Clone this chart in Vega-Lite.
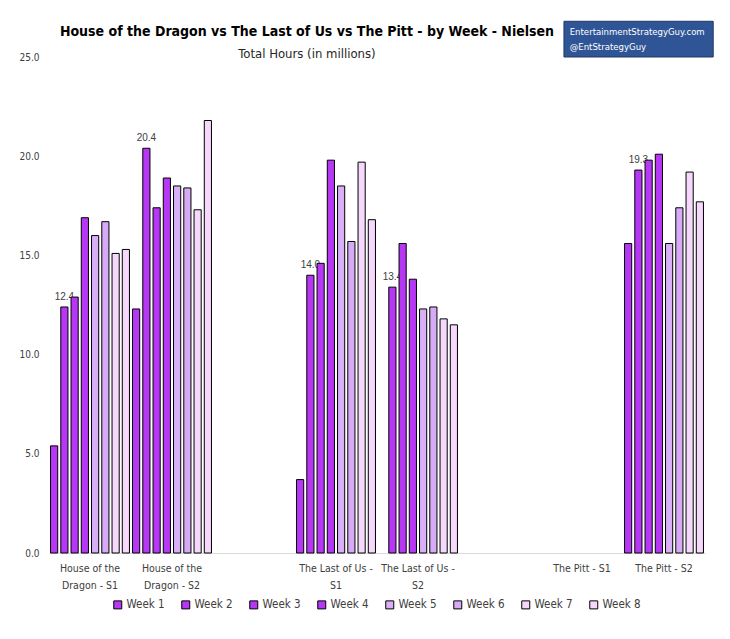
{
  "$schema": "https://vega.github.io/schema/vega-lite/v6.json",
  "width": 656,
  "height": 496,
  "autosize": {"type": "none"},
  "padding": {"left": 49, "top": 57, "right": 25, "bottom": 86},
  "background": "white",
  "title": {
    "text": "House of the Dragon vs The Last of Us vs The Pitt - by Week - Nielsen",
    "subtitle": "Total Hours (in millions)",
    "anchor": "middle",
    "dx": -70,
    "offset": -40,
    "font": "DejaVu Sans Condensed, DejaVu Sans, sans-serif",
    "fontSize": 14,
    "fontWeight": "bold",
    "color": "#000000",
    "subtitleFont": "DejaVu Sans Condensed, DejaVu Sans, sans-serif",
    "subtitleFontSize": 13,
    "subtitleColor": "#262626",
    "subtitlePadding": 9
  },
  "datasets": {
    "hours": [
      {"show": "House of the Dragon - S1", "week": "Week 1", "hours": 5.4},
      {"show": "House of the Dragon - S1", "week": "Week 2", "hours": 12.4},
      {"show": "House of the Dragon - S1", "week": "Week 3", "hours": 12.9},
      {"show": "House of the Dragon - S1", "week": "Week 4", "hours": 16.9},
      {"show": "House of the Dragon - S1", "week": "Week 5", "hours": 16.0},
      {"show": "House of the Dragon - S1", "week": "Week 6", "hours": 16.7},
      {"show": "House of the Dragon - S1", "week": "Week 7", "hours": 15.1},
      {"show": "House of the Dragon - S1", "week": "Week 8", "hours": 15.3},
      {"show": "House of the Dragon - S2", "week": "Week 1", "hours": 12.3},
      {"show": "House of the Dragon - S2", "week": "Week 2", "hours": 20.4},
      {"show": "House of the Dragon - S2", "week": "Week 3", "hours": 17.4},
      {"show": "House of the Dragon - S2", "week": "Week 4", "hours": 18.9},
      {"show": "House of the Dragon - S2", "week": "Week 5", "hours": 18.5},
      {"show": "House of the Dragon - S2", "week": "Week 6", "hours": 18.4},
      {"show": "House of the Dragon - S2", "week": "Week 7", "hours": 17.3},
      {"show": "House of the Dragon - S2", "week": "Week 8", "hours": 21.8},
      {"show": "The Last of Us - S1", "week": "Week 1", "hours": 3.7},
      {"show": "The Last of Us - S1", "week": "Week 2", "hours": 14.0},
      {"show": "The Last of Us - S1", "week": "Week 3", "hours": 14.6},
      {"show": "The Last of Us - S1", "week": "Week 4", "hours": 19.8},
      {"show": "The Last of Us - S1", "week": "Week 5", "hours": 18.5},
      {"show": "The Last of Us - S1", "week": "Week 6", "hours": 15.7},
      {"show": "The Last of Us - S1", "week": "Week 7", "hours": 19.7},
      {"show": "The Last of Us - S1", "week": "Week 8", "hours": 16.8},
      {"show": "The Last of Us - S2", "week": "Week 2", "hours": 13.4},
      {"show": "The Last of Us - S2", "week": "Week 3", "hours": 15.6},
      {"show": "The Last of Us - S2", "week": "Week 4", "hours": 13.8},
      {"show": "The Last of Us - S2", "week": "Week 5", "hours": 12.3},
      {"show": "The Last of Us - S2", "week": "Week 6", "hours": 12.4},
      {"show": "The Last of Us - S2", "week": "Week 7", "hours": 11.8},
      {"show": "The Last of Us - S2", "week": "Week 8", "hours": 11.5},
      {"show": "The Pitt - S2", "week": "Week 1", "hours": 15.6},
      {"show": "The Pitt - S2", "week": "Week 2", "hours": 19.3},
      {"show": "The Pitt - S2", "week": "Week 3", "hours": 19.8},
      {"show": "The Pitt - S2", "week": "Week 4", "hours": 20.1},
      {"show": "The Pitt - S2", "week": "Week 5", "hours": 15.6},
      {"show": "The Pitt - S2", "week": "Week 6", "hours": 17.4},
      {"show": "The Pitt - S2", "week": "Week 7", "hours": 19.2},
      {"show": "The Pitt - S2", "week": "Week 8", "hours": 17.7}
    ],
    "badge": [
      {"text": "EntertainmentStrategyGuy.com\n@EntStrategyGuy"}
    ]
  },
  "config": {
    "view": {"stroke": null},
    "font": "DejaVu Sans Condensed, DejaVu Sans, sans-serif"
  },
  "encoding": {
    "x": {
      "field": "show",
      "type": "nominal",
      "sort": null,
      "scale": {
        "domain": ["House of the Dragon - S1", "House of the Dragon - S2", "gap1", "The Last of Us - S1", "The Last of Us - S2", "gap2", "The Pitt - S1", "The Pitt - S2"],
        "paddingInner": 0,
        "paddingOuter": 0
      },
      "axis": {
        "title": null,
        "labelAngle": 0,
        "ticks": false,
        "domainColor": "#d9d9d9",
        "domainWidth": 1,
        "labelFont": "DejaVu Sans Condensed, DejaVu Sans, sans-serif",
        "labelFontSize": 10.5,
        "labelColor": "#404040",
        "labelPadding": 10,
        "labelLineHeight": 17,
        "labelBaseline": "top",
        "labelLimit": 200,
        "labelExpr": "datum.value == 'House of the Dragon - S1' ? ['House of the', 'Dragon - S1'] : datum.value == 'House of the Dragon - S2' ? ['House of the', 'Dragon - S2'] : datum.value == 'The Last of Us - S1' ? ['The Last of Us -', 'S1'] : datum.value == 'The Last of Us - S2' ? ['The Last of Us -', 'S2'] : indexof(datum.value, 'gap') == 0 ? '' : datum.value"
      }
    }
  },
  "layer": [
    {
      "data": {"name": "hours"},
      "transform": [{"filter": "datum.week == 'Week 2'"}],
      "mark": {"type": "text", "font": "Liberation Sans", "fontSize": 10, "color": "#404040", "baseline": "alphabetic", "dy": -7},
      "encoding": {
        "xOffset": {"field": "week", "type": "nominal", "scale": {"domain": ["Week 1", "Week 2", "Week 3", "Week 4", "Week 5", "Week 6", "Week 7", "Week 8"], "paddingInner": 0.3, "paddingOuter": 0.15}},
        "y": {"field": "hours", "type": "quantitative"},
        "text": {"field": "hours", "type": "quantitative", "format": ".1f"}
      }
    },
    {
      "data": {"name": "hours"},
      "mark": {"type": "bar", "stroke": "#000000", "strokeWidth": 1},
      "encoding": {
        "xOffset": {"field": "week", "type": "nominal", "scale": {"domain": ["Week 1", "Week 2", "Week 3", "Week 4", "Week 5", "Week 6", "Week 7", "Week 8"], "paddingInner": 0.3, "paddingOuter": 0.15}},
        "y": {
          "field": "hours",
          "type": "quantitative",
          "scale": {"domain": [0, 25], "nice": false},
          "axis": {
            "title": null,
            "values": [0, 5, 10, 15, 20, 25],
            "format": ".1f",
            "grid": false,
            "ticks": false,
            "domain": false,
            "labelFont": "DejaVu Sans Condensed, DejaVu Sans, sans-serif",
            "labelFontSize": 10,
            "labelColor": "#404040",
            "labelPadding": 10
          }
        },
        "color": {
          "field": "week",
          "type": "nominal",
          "scale": {
            "domain": ["Week 1", "Week 2", "Week 3", "Week 4", "Week 5", "Week 6", "Week 7", "Week 8"],
            "range": ["#B638F5", "#B638F5", "#B638F5", "#B638F5", "#D9B0F8", "#D6AAF7", "#F5D8FB", "#F5D8FB"]
          },
          "legend": {
            "title": null,
            "orient": "none",
            "direction": "horizontal",
            "legendX": 63,
            "legendY": 542,
            "padding": 0,
            "symbolType": "square",
            "symbolSize": 64,
            "symbolStrokeColor": "#000000",
            "symbolStrokeWidth": 1,
            "symbolOpacity": 1,
            "labelFont": "DejaVu Sans Condensed, DejaVu Sans, sans-serif",
            "labelFontSize": 11.5,
            "labelColor": "#404040",
            "labelOffset": 3,
            "columnPadding": 14
          }
        }
      }
    },
    {
      "data": {"name": "badge"},
      "mark": {"type": "rect", "fill": "#2F5597", "stroke": "#203864", "strokeWidth": 1, "clip": false},
      "encoding": {
        "x": {"datum": "The Pitt - S1", "bandPosition": 0.28},
        "x2": {"datum": "The Pitt - S2", "bandPosition": 1.1},
        "y": {"datum": 26.8, "type": "quantitative"},
        "y2": {"datum": 25}
      }
    },
    {
      "data": {"name": "badge"},
      "mark": {"type": "text", "color": "#ffffff", "font": "DejaVu Sans Condensed, DejaVu Sans, sans-serif", "fontSize": 9.5, "align": "left", "baseline": "top", "lineBreak": "\n", "lineHeight": 15, "clip": false},
      "encoding": {
        "x": {"datum": "The Pitt - S1", "bandPosition": 0.35},
        "y": {"datum": 26.5, "type": "quantitative"},
        "text": {"field": "text"}
      }
    }
  ]
}
